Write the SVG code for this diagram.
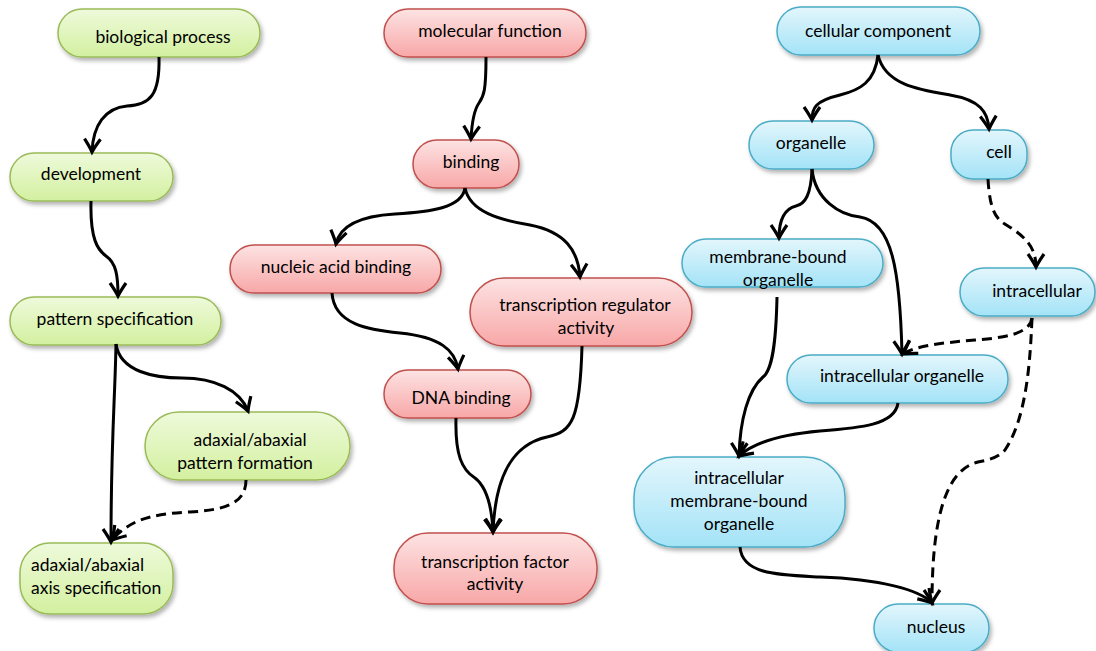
<svg xmlns="http://www.w3.org/2000/svg" width="1096" height="651" viewBox="0 0 1096 651">
<defs>
<linearGradient id="gG" x1="0" y1="0" x2="0" y2="1"><stop offset="0" stop-color="#eefadb"/><stop offset="1" stop-color="#d3f09f"/></linearGradient>
<linearGradient id="gR" x1="0" y1="0" x2="0" y2="1"><stop offset="0" stop-color="#fde3e3"/><stop offset="1" stop-color="#f8a7a7"/></linearGradient>
<linearGradient id="gB" x1="0" y1="0" x2="0" y2="1"><stop offset="0" stop-color="#e3f6fc"/><stop offset="1" stop-color="#a3e3f7"/></linearGradient>
<filter id="sh" x="-10%" y="-20%" width="130%" height="150%"><feDropShadow dx="2" dy="3" stdDeviation="2" flood-color="#000" flood-opacity="0.3"/></filter>
<marker id="ah" markerUnits="userSpaceOnUse" viewBox="-16 -10 18 20" refX="0" refY="0" markerWidth="18" markerHeight="20" orient="auto" overflow="visible">
<path d="M-13,-8 Q-5,-2.5 0,0 Q-5,2.5 -13,8" fill="none" stroke="#000" stroke-width="3.2" stroke-linejoin="miter"/>
</marker>
<style>
.g{fill:url(#gG);stroke:#9bbb59;stroke-width:1.5;filter:url(#sh)}
.r{fill:url(#gR);stroke:#c0504d;stroke-width:1.5;filter:url(#sh)}
.b{fill:url(#gB);stroke:#4bacc6;stroke-width:1.5;filter:url(#sh)}
text{font-family:Lato,"Open Sans","Liberation Sans",sans-serif;font-size:17.5px;fill:#000;text-anchor:middle}
.c path{fill:none;stroke:#000;stroke-width:3;marker-end:url(#ah)}
.c path.d{stroke-dasharray:10 6}
</style>
</defs>
<g id="biological_process"><rect class="g" x="58" y="9" width="202" height="48" rx="24"/><text x="163" y="43">biological process</text></g>
<g id="development"><rect class="g" x="10" y="153" width="163" height="48" rx="24"/><text x="91" y="180">development</text></g>
<g id="pattern_specification"><rect class="g" x="10" y="297" width="211" height="48" rx="24"/><text x="115" y="325">pattern specification</text></g>
<g id="pattern_formation"><rect class="g" x="145" y="412" width="205" height="68" rx="34"/><text x="250" y="446">adaxial/abaxial</text><text x="245" y="469">pattern formation</text></g>
<g id="axis_specification"><rect class="g" x="20" y="543" width="153" height="71" rx="30"/><text x="31" y="571" style="text-anchor:start">adaxial/abaxial</text><text x="31" y="594" style="text-anchor:start">axis specification</text></g>

<g id="molecular_function"><rect class="r" x="384" y="9" width="202" height="48" rx="24"/><text x="490" y="37">molecular function</text></g>
<g id="binding"><rect class="r" x="413" y="140" width="106" height="48" rx="24"/><text x="471" y="168">binding</text></g>
<g id="nucleic_acid_binding"><rect class="r" x="230" y="245" width="211" height="48" rx="24"/><text x="336" y="273">nucleic acid binding</text></g>
<g id="transcription_regulator"><rect class="r" x="470" y="278" width="222" height="68" rx="34"/><text x="585" y="311">transcription regulator</text><text x="586" y="334">activity</text></g>
<g id="dna_binding"><rect class="r" x="384" y="370" width="147" height="48" rx="24"/><text x="461" y="404">DNA binding</text></g>
<g id="transcription_factor"><rect class="r" x="394" y="533" width="203" height="71" rx="34"/><text x="495" y="568">transcription factor</text><text x="495" y="590">activity</text></g>

<g id="cellular_component"><rect class="b" x="777" y="7" width="203" height="48" rx="24"/><text x="878" y="37">cellular component</text></g>
<g id="organelle"><rect class="b" x="749" y="121" width="125" height="48" rx="24"/><text x="811" y="149">organelle</text></g>
<g id="cell"><rect class="b" x="951" y="130" width="76" height="49" rx="22"/><text x="999" y="158">cell</text></g>
<g id="membrane_bound_organelle"><rect class="b" x="682" y="239" width="201" height="48" rx="24"/><text x="778" y="263">membrane-bound</text><text x="778" y="286">organelle</text></g>
<g id="intracellular"><rect class="b" x="960" y="268" width="135" height="48" rx="24"/><text x="1037" y="297">intracellular</text></g>
<g id="intracellular_organelle"><rect class="b" x="787" y="355" width="221" height="48" rx="24"/><text x="902" y="382">intracellular organelle</text></g>
<g id="intracellular_membrane_bound_organelle"><rect class="b" x="634" y="457" width="211" height="90" rx="40"/><text x="739" y="484">intracellular</text><text x="739" y="507">membrane-bound</text><text x="739" y="530">organelle</text></g>
<g id="nucleus"><rect class="b" x="874" y="604" width="115" height="48" rx="24"/><text x="936" y="633">nucleus</text></g>

<g id="connectors" class="c">
<path d="M159,57 C160,95 150,105 127,106 C105,108 93,125 92,152"/>
<path d="M91,201 C90,240 98,250 106,256 C116,263 118,275 118,296"/>
<path d="M116,344 C115,400 111,440 111,542"/>
<path d="M116,344 C120,372 155,378 182,378 C215,378 240,390 248,411"/>
<path class="d" d="M246,480 C246,505 222,510 190,512 C150,514 130,520 112,540"/>

<path d="M486,57 C486,90 484,96 479,103 C474,110 472,120 471,139"/>
<path d="M465,188 C462,208 430,212 395,214 C360,216 340,225 336,244"/>
<path d="M465,188 C470,212 500,220 530,225 C565,232 578,250 580,277"/>
<path d="M332,293 C334,325 370,330 400,333 C440,337 455,350 458,369"/>
<path d="M456,418 C455,455 462,470 475,478 C488,488 492,510 493,532"/>
<path d="M582,346 C580,420 572,432 547,437 C510,445 495,480 493,532"/>

<path d="M878,55 C875,82 860,90 840,95 C815,101 812,108 812,120"/>
<path d="M878,55 C885,85 920,90 950,95 C980,100 988,112 989,129"/>
<path d="M812,169 C811,195 805,204 796,206 C784,209 779,220 779,238"/>
<path d="M812,169 C815,200 840,215 860,217 C892,222 900,270 902,354"/>
<path class="d" d="M988,179 C990,215 998,220 1008,226 C1028,238 1036,250 1036,267"/>
<path class="d" d="M1032,318 C1030,335 1000,338 975,340 C940,343 915,346 903,354"/>
<path class="d" d="M1032,318 C1030,370 1025,420 1005,450 C998,458 988,460 978,462 C945,470 932,520 932,603"/>
<path d="M898,403 C895,425 860,428 820,431 C775,435 752,444 739,456"/>
<path d="M777,297 C776,345 772,370 763,377 C748,390 740,420 739,456"/>
<path d="M740,547 C742,575 780,575 820,577 C880,579 920,590 932,603"/>
</g>
</svg>
